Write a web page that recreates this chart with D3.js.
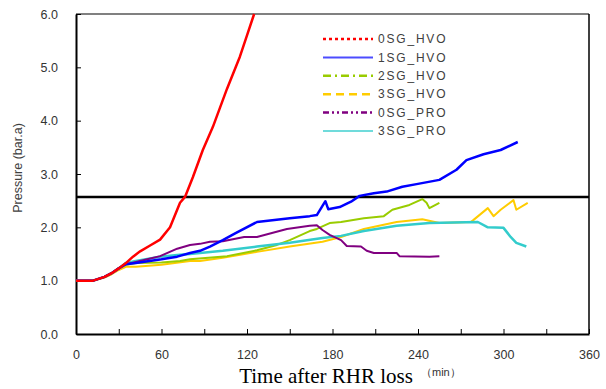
<!DOCTYPE html>
<html>
<head>
<meta charset="utf-8">
<script src="https://cdn.jsdelivr.net/npm/d3@7"></script>
<style>
  body { margin: 0; background: #fff; }
  svg { font-family: "Liberation Sans", Arial, sans-serif; }
</style>
</head>
<body>
<div id="chart"></div>
<script>
// series: [minutes, bar.a]
const hvo0 = [[0,1.0],[12,1.0],[20,1.07],[25,1.14],[30,1.23],[35,1.33],[40,1.45],[45,1.55],[52,1.66],[59,1.77],[66,2.0],[73,2.46],[76.5,2.57],[82,2.94],[89,3.45],[96,3.88],[101,4.24],[106,4.6],[115,5.2],[120,5.6],[125,6.0]];
const hvo1 = [[0,1.0],[12,1.0],[20,1.07],[25,1.14],[30,1.23],[35,1.31],[42,1.33],[60,1.4],[71,1.45],[80,1.52],[87,1.56],[94,1.64],[103,1.76],[112,1.89],[127,2.1],[150,2.17],[164,2.21],[169,2.23],[175,2.49],[177,2.34],[185,2.38],[193,2.48],[199,2.59],[209,2.64],[218,2.67],[229,2.76],[239,2.81],[255,2.89],[267,3.08],[274,3.26],[286,3.37],[298,3.45],[310,3.6]];
const hvo2 = [[0,1.0],[12,1.0],[20,1.07],[25,1.14],[30,1.23],[35,1.3],[42,1.33],[60,1.34],[73,1.37],[80,1.4],[106,1.46],[127,1.57],[141,1.67],[150,1.76],[164,1.93],[169,1.97],[178,2.08],[186,2.1],[202,2.17],[216,2.21],[222,2.33],[234,2.42],[243,2.53],[246,2.46],[248,2.36],[255,2.46]];
const hvo3 = [[0,1.0],[12,1.0],[20,1.06],[25,1.12],[30,1.2],[35,1.26],[42,1.26],[60,1.3],[80,1.37],[87,1.37],[103,1.43],[127,1.54],[150,1.64],[173,1.73],[186,1.82],[202,1.97],[225,2.1],[243,2.15],[255,2.08],[277,2.1],[279,2.14],[289,2.36],[293,2.21],[298,2.33],[307,2.51],[309,2.33],[317,2.46]];
const pro0 = [[0,1.0],[12,1.0],[20,1.07],[25,1.14],[30,1.23],[35,1.31],[42,1.35],[50,1.4],[59,1.46],[71,1.6],[80,1.67],[87,1.69],[94,1.73],[103,1.74],[118,1.82],[127,1.82],[148,1.97],[164,2.03],[169,2.04],[173,1.95],[178,1.86],[186,1.76],[190,1.65],[200,1.64],[204,1.56],[209,1.52],[225,1.52],[227,1.46],[248,1.45],[255,1.46]];
const pro3 = [[0,1.0],[12,1.0],[20,1.07],[25,1.14],[30,1.23],[35,1.33],[42,1.37],[59,1.45],[71,1.48],[80,1.5],[103,1.56],[127,1.64],[150,1.71],[173,1.8],[186,1.84],[202,1.93],[225,2.03],[248,2.08],[282,2.1],[289,2.0],[300,1.99],[305,1.82],[309,1.71],[316,1.64]];

const seriesNames = ["0SG_HVO", "1SG_HVO", "2SG_HVO", "3SG_HVO", "0SG_PRO", "3SG_PRO"];
const seriesData = [hvo0, hvo1, hvo2, hvo3, pro0, pro3];
const colors = ["#ff0000", "#0000ff", "#99cc00", "#ffcc00", "#800080", "#33cccc"];
const dashes = ["3,3", null, "8,4,2,4", "8,5", "6,3,2,3,2,3", null];
const widths = [2.5, 2.5, 2, 2, 2, 2.5];

const limitLine = 2.57;
const xTicks = [0, 30, 60, 90, 120, 150, 180, 210, 240, 270, 300, 330, 360];
const yTicks = [0, 1, 2, 3, 4, 5, 6];

const W = 606, H = 389;
const margin = {top: 14, right: 17, bottom: 55, left: 76};
const width = W - margin.left - margin.right;
const height = H - margin.top - margin.bottom;

const svg = d3.select("#chart").append("svg")
    .attr("width", W)
    .attr("height", H);

const g = svg.append("g")
    .attr("transform", `translate(${margin.left},${margin.top})`);

const x = d3.scaleLinear().domain([0, 360]).range([0, width]);
const y = d3.scaleLinear().domain([0, 6]).range([height, 0]);

// frame: grey top, black right
g.append("line").attr("x1", 0).attr("x2", width).attr("y1", 0).attr("y2", 0)
    .attr("stroke", "#808080").attr("stroke-width", 2);
g.append("line").attr("x1", width).attr("x2", width).attr("y1", 0).attr("y2", height)
    .attr("stroke", "#000").attr("stroke-width", 1.5);

const xAxis = g.append("g")
    .attr("transform", `translate(0,${height})`)
    .call(d3.axisBottom(x).tickValues(xTicks).tickSizeInner(-5).tickSizeOuter(0).tickPadding(16)
        .tickFormat(d => d % 60 === 0 ? d : ""));
const yAxis = g.append("g")
    .call(d3.axisLeft(y).tickValues(yTicks).tickSizeInner(-5).tickSizeOuter(0).tickPadding(18)
        .tickFormat(d3.format(".1f")));

[xAxis, yAxis].forEach(a => {
    a.select(".domain").attr("stroke", "#000").attr("stroke-width", 2);
    a.selectAll(".tick line").attr("stroke", "#000");
    a.selectAll("text").attr("font-size", 12.5).attr("fill", "#333")
        .attr("font-family", "'Liberation Sans', Arial, sans-serif");
});

// limit line
g.append("line")
    .attr("x1", 0).attr("x2", width)
    .attr("y1", y(limitLine)).attr("y2", y(limitLine))
    .attr("stroke", "#000").attr("stroke-width", 2.5);

const line = d3.line().x(d => x(d[0])).y(d => y(d[1]));

// draw bottom-most first so red/blue sit on top
const order = [3, 2, 5, 4, 1, 0];
order.forEach(i => {
    g.append("path")
        .datum(seriesData[i])
        .attr("fill", "none")
        .attr("stroke", colors[i])
        .attr("stroke-width", widths[i])
        .attr("stroke-linejoin", "round")
        .attr("d", line);
});

// legend
const legend = g.append("g").attr("transform", `translate(${323 - margin.left},${39 - margin.top})`);
seriesNames.forEach((name, i) => {
    const row = legend.append("g").attr("transform", `translate(0,${i * 18.4})`);
    row.append("line")
        .attr("x1", 0).attr("x2", 50)
        .attr("stroke", colors[i])
        .attr("stroke-width", i === 1 || i === 5 ? 2 : 2.5)
        .attr("stroke-opacity", i === 1 || i === 5 ? 0.7 : 1)
        .attr("stroke-dasharray", dashes[i]);
    row.append("text")
        .attr("x", 55).attr("dy", "0.35em")
        .attr("font-size", 12).attr("fill", "#404040")
        .attr("letter-spacing", "1.8px")
        .text(name);
});

// axis titles
svg.append("text")
    .attr("x", 326).attr("y", 383)
    .attr("text-anchor", "middle")
    .style("font-family", "'Liberation Serif', 'Times New Roman', serif")
    .attr("font-size", 21).attr("fill", "#000")
    .text("Time after RHR loss");
svg.append("text")
    .attr("x", 421).attr("y", 376)
    .attr("font-size", 11).attr("fill", "#333")
    .text("（min）");
svg.append("text")
    .attr("transform", "translate(22,168) rotate(-90)")
    .attr("text-anchor", "middle")
    .attr("font-size", 12.5).attr("fill", "#404040")
    .text("Pressure (bar.a)");
</script>
</body>
</html>
